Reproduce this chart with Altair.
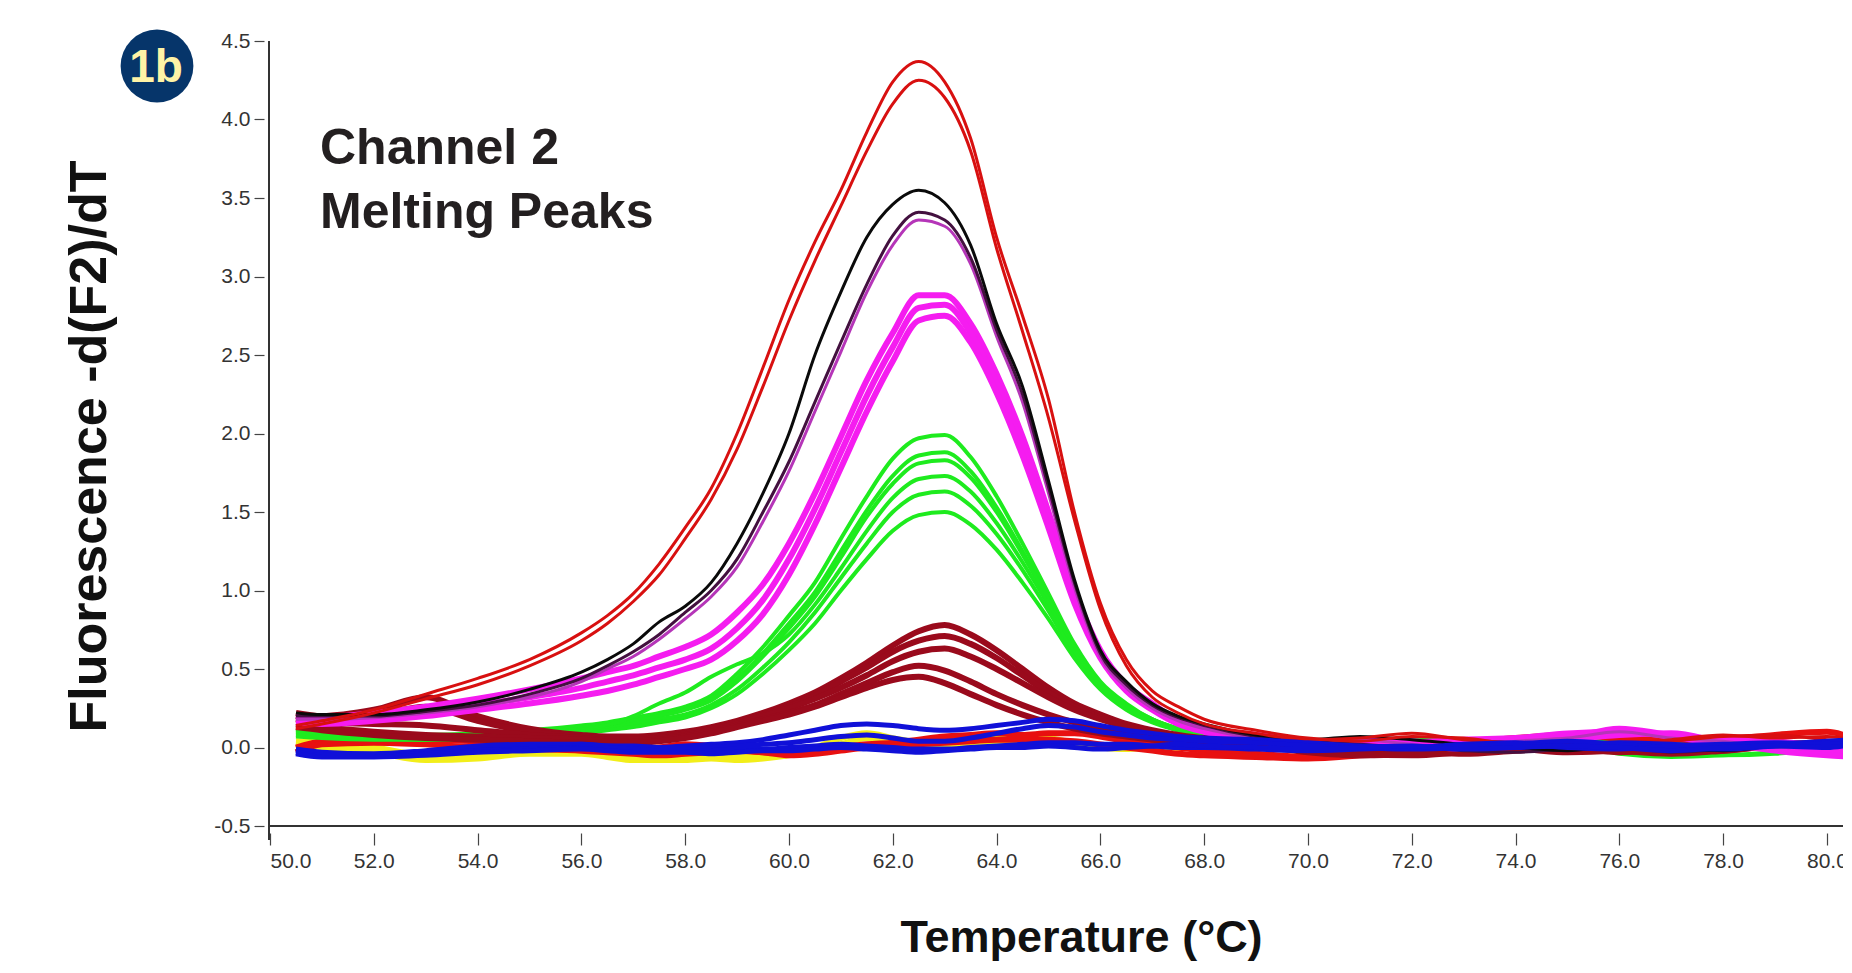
import altair as alt
import pandas as pd

# temperature grid (deg C)
TEMPS = [50.5, 51, 52, 53, 54, 55,
         56, 56.5, 57, 57.5, 58, 58.5, 59, 59.5, 60,
         60.5, 61, 61.5, 62, 62.5, 63, 63.5, 64,
         64.5, 65, 65.5, 66, 66.5, 67, 67.5, 68,
         69, 70, 71, 72, 73, 74, 75, 76, 77, 78, 79, 80, 80.5]

RED_A = [0.14, 0.17, 0.24, 0.34, 0.44, 0.56,
         0.73, 0.84, 0.98, 1.17, 1.40, 1.65, 2.00, 2.42, 2.85,
         3.22, 3.55, 3.92, 4.24, 4.37, 4.24, 3.88, 3.25,
         2.75, 2.22, 1.50, 0.92, 0.56, 0.36, 0.26, 0.18,
         0.11, 0.06, 0.04, 0.07, 0.06, 0.02, 0.01, 0.03, 0.04, 0.07, 0.08, 0.05, 0.04]
RED_B = [0.12, 0.15, 0.22, 0.31, 0.40, 0.52,
         0.68, 0.79, 0.93, 1.10, 1.33, 1.58, 1.90, 2.30, 2.72,
         3.10, 3.45, 3.80, 4.10, 4.25, 4.14, 3.80, 3.18,
         2.65, 2.10, 1.45, 0.88, 0.52, 0.32, 0.22, 0.15,
         0.09, 0.05, 0.06, 0.09, 0.05, 0.03, 0.00, 0.02, 0.05, 0.08, 0.06, 0.07, 0.05]
BLACK = [0.22, 0.21, 0.21, 0.24, 0.29, 0.37,
         0.48, 0.56, 0.66, 0.80, 0.90, 1.05, 1.30, 1.62, 2.00,
         2.50, 2.90, 3.25, 3.46, 3.55, 3.47, 3.20, 2.70,
         2.30, 1.70, 1.07, 0.62, 0.42, 0.28, 0.20, 0.15,
         0.08, 0.05, 0.07, 0.05, 0.02, 0.00, -0.02, 0.01, 0.00, -0.02, 0.01, 0.03, 0.04]
DARK_PURPLE = [0.20, 0.20, 0.20, 0.23, 0.27, 0.34,
               0.44, 0.52, 0.61, 0.72, 0.86, 1.00, 1.20, 1.50, 1.82,
               2.20, 2.58, 2.95, 3.26, 3.41, 3.36, 3.12, 2.66,
               2.25, 1.66, 1.05, 0.60, 0.40, 0.27, 0.19, 0.14,
               0.07, 0.04, 0.02, 0.00, -0.02, -0.03, -0.01, 0.00, -0.03, -0.01, 0.02, 0.02, 0.03]
PURPLE = [0.18, 0.18, 0.19, 0.22, 0.26, 0.32,
          0.42, 0.50, 0.58, 0.69, 0.82, 0.96, 1.15, 1.44, 1.76,
          2.14, 2.52, 2.90, 3.20, 3.36, 3.32, 3.08, 2.62,
          2.20, 1.62, 1.02, 0.58, 0.38, 0.25, 0.17, 0.12,
          0.06, 0.03, 0.05, 0.02, 0.00, 0.04, 0.06, 0.10, 0.06, 0.04, 0.00, 0.02, 0.03]
MAGENTA_1 = [0.20, 0.19, 0.22, 0.26, 0.31, 0.37,
             0.44, 0.48, 0.52, 0.58, 0.64, 0.72, 0.86, 1.04, 1.30,
             1.62, 1.98, 2.34, 2.64, 2.88, 2.88, 2.70, 2.38,
             1.98, 1.50, 1.00, 0.62, 0.40, 0.28, 0.17, 0.12,
             0.08, 0.04, 0.02, 0.04, 0.00, 0.03, 0.06, 0.12, 0.08, 0.05, 0.04, 0.00, -0.03]
MAGENTA_2 = [0.18, 0.17, 0.19, 0.22, 0.27, 0.32,
             0.38, 0.42, 0.46, 0.51, 0.56, 0.63, 0.76, 0.94, 1.20,
             1.52, 1.88, 2.24, 2.55, 2.80, 2.82, 2.64, 2.32,
             1.92, 1.45, 0.96, 0.60, 0.38, 0.26, 0.16, 0.11,
             0.06, 0.02, 0.00, 0.03, 0.05, 0.06, 0.09, 0.10, 0.07, 0.02, 0.01, -0.02, -0.04]
MAGENTA_3 = [0.16, 0.15, 0.17, 0.20, 0.24, 0.28,
             0.33, 0.36, 0.40, 0.45, 0.50, 0.56, 0.68, 0.85, 1.10,
             1.42, 1.78, 2.14, 2.46, 2.72, 2.75, 2.58, 2.26,
             1.86, 1.40, 0.92, 0.57, 0.36, 0.24, 0.15, 0.10,
             0.05, 0.03, 0.05, 0.02, -0.01, 0.02, 0.05, 0.08, 0.09, 0.03, -0.02, -0.05, -0.06]
GREEN_1 = [0.12, 0.10, 0.08, 0.08, 0.09, 0.11,
           0.14, 0.16, 0.19, 0.22, 0.26, 0.33, 0.47, 0.64, 0.84,
           1.05, 1.33, 1.60, 1.84, 1.97, 1.99, 1.85, 1.60,
           1.30, 0.98, 0.66, 0.42, 0.28, 0.18, 0.12, 0.09,
           0.06, 0.05, 0.04, 0.06, 0.05, 0.04, 0.06, 0.02, 0.00, 0.03, 0.02, 0.03, 0.04]
GREEN_2 = [0.10, 0.09, 0.08, 0.07, 0.08, 0.10,
           0.13, 0.15, 0.18, 0.21, 0.25, 0.31, 0.44, 0.60, 0.79,
           0.99, 1.25, 1.51, 1.73, 1.86, 1.88, 1.76, 1.53,
           1.25, 0.95, 0.64, 0.41, 0.27, 0.18, 0.12, 0.08,
           0.05, 0.04, 0.03, 0.02, 0.04, 0.06, 0.04, -0.04, -0.06, -0.05, -0.03, 0.00, 0.02]
GREEN_3 = [0.11, 0.09, 0.07, 0.06, 0.07, 0.09,
           0.12, 0.14, 0.17, 0.20, 0.24, 0.30, 0.42, 0.58, 0.76,
           0.96, 1.21, 1.47, 1.68, 1.81, 1.83, 1.72, 1.50,
           1.23, 0.94, 0.64, 0.41, 0.27, 0.18, 0.12, 0.08,
           0.05, 0.04, 0.05, 0.03, 0.02, 0.04, 0.03, 0.01, 0.02, 0.00, 0.01, 0.02, 0.03]
GREEN_4 = [0.09, 0.08, 0.07, 0.06, 0.06, 0.08,
           0.11, 0.14, 0.20, 0.28, 0.35, 0.45, 0.53, 0.60, 0.72,
           0.91, 1.14, 1.38, 1.59, 1.71, 1.73, 1.63, 1.43,
           1.18, 0.91, 0.62, 0.40, 0.26, 0.17, 0.11, 0.08,
           0.05, 0.03, 0.02, 0.04, 0.03, 0.02, 0.03, 0.02, 0.01, 0.03, 0.02, 0.01, 0.02]
GREEN_5 = [0.08, 0.07, 0.06, 0.05, 0.06, 0.07,
           0.10, 0.12, 0.15, 0.18, 0.21, 0.27, 0.37, 0.51, 0.67,
           0.86, 1.08, 1.30, 1.50, 1.61, 1.63, 1.54, 1.36,
           1.13, 0.87, 0.60, 0.39, 0.25, 0.17, 0.11, 0.08,
           0.05, 0.03, 0.04, 0.02, 0.03, 0.01, 0.02, 0.03, 0.01, 0.02, 0.03, 0.02, 0.03]
GREEN_6 = [0.07, 0.06, 0.05, 0.05, 0.05, 0.06,
           0.09, 0.11, 0.13, 0.16, 0.19, 0.25, 0.34, 0.47, 0.62,
           0.79, 1.00, 1.20, 1.38, 1.48, 1.50, 1.42, 1.26,
           1.05, 0.82, 0.57, 0.37, 0.24, 0.16, 0.11, 0.07,
           0.04, 0.03, 0.02, 0.03, 0.02, 0.03, 0.01, -0.02, -0.05, -0.05, -0.04, -0.01, 0.01]
MAROON_1 = [0.22, 0.20, 0.24, 0.32, 0.20, 0.12,
            0.08, 0.07, 0.07, 0.08, 0.10, 0.13, 0.17, 0.22, 0.28,
            0.35, 0.44, 0.54, 0.65, 0.74, 0.78, 0.72, 0.62,
            0.50, 0.38, 0.28, 0.21, 0.15, 0.11, 0.08, 0.06,
            0.05, 0.01, -0.03, -0.04, -0.02, 0.00, 0.02, 0.00, -0.02, 0.00, 0.03, 0.02, 0.01]
MAROON_2 = [0.20, 0.18, 0.20, 0.26, 0.17, 0.10,
            0.07, 0.06, 0.06, 0.07, 0.09, 0.12, 0.16, 0.21, 0.26,
            0.33, 0.42, 0.51, 0.61, 0.68, 0.71, 0.66, 0.57,
            0.46, 0.35, 0.26, 0.19, 0.14, 0.10, 0.07, 0.05,
            0.03, 0.00, -0.04, -0.05, -0.03, -0.01, 0.01, -0.02, -0.04, -0.02, 0.01, 0.03, 0.02]
MAROON_3 = [0.18, 0.16, 0.15, 0.14, 0.11, 0.08,
            0.06, 0.05, 0.05, 0.06, 0.08, 0.11, 0.15, 0.20, 0.25,
            0.31, 0.38, 0.46, 0.55, 0.61, 0.63, 0.58, 0.50,
            0.41, 0.32, 0.24, 0.18, 0.13, 0.09, 0.07, 0.05,
            0.02, -0.02, -0.05, -0.03, -0.04, -0.02, 0.00, -0.03, -0.01, 0.01, 0.00, 0.02, 0.01]
MAROON_4 = [0.15, 0.13, 0.10, 0.08, 0.07, 0.06,
            0.05, 0.04, 0.04, 0.05, 0.07, 0.10, 0.14, 0.18, 0.22,
            0.27, 0.34, 0.41, 0.48, 0.52, 0.49, 0.42, 0.34,
            0.27, 0.21, 0.16, 0.12, 0.09, 0.07, 0.05, 0.04,
            0.02, -0.02, -0.04, -0.03, -0.02, 0.00, -0.02, -0.01, 0.00, -0.02, 0.01, 0.00, 0.01]
MAROON_5 = [0.13, 0.11, 0.08, 0.06, 0.05, 0.04,
            0.03, 0.03, 0.03, 0.04, 0.06, 0.09, 0.13, 0.17, 0.21,
            0.26, 0.32, 0.38, 0.43, 0.45, 0.41, 0.34, 0.27,
            0.21, 0.16, 0.12, 0.09, 0.07, 0.05, 0.04, 0.03,
            0.01, -0.03, -0.05, -0.04, -0.03, -0.01, -0.03, -0.02, -0.01, 0.00, 0.02, 0.01, 0.00]
BLUE_1 = [-0.02, -0.04, -0.05, -0.03, 0.00, 0.00,
          0.02, 0.01, 0.00, 0.00, 0.01, 0.02, 0.03, 0.05, 0.08,
          0.11, 0.14, 0.15, 0.14, 0.12, 0.11, 0.12, 0.14,
          0.16, 0.18, 0.17, 0.14, 0.11, 0.09, 0.07, 0.06,
          0.05, 0.03, 0.01, 0.00, 0.02, 0.03, 0.01, 0.03, 0.02, 0.00, 0.02, 0.04, 0.05]
BLUE_2 = [-0.01, -0.03, -0.04, -0.02, 0.01, 0.02,
          0.02, 0.01, 0.01, 0.00, 0.00, 0.00, 0.01, 0.02, 0.03,
          0.05, 0.07, 0.08, 0.06, 0.04, 0.04, 0.06, 0.09,
          0.12, 0.14, 0.13, 0.10, 0.08, 0.06, 0.05, 0.04,
          0.03, 0.01, 0.00, -0.01, 0.00, 0.02, 0.04, 0.02, 0.00, -0.01, 0.01, 0.03, 0.04]
BLUE_3 = [-0.03, -0.05, -0.05, -0.04, -0.02, -0.01,
          0.00, 0.00, -0.01, -0.02, -0.02, -0.02, -0.01, -0.01, 0.00,
          0.01, 0.02, 0.01, 0.00, -0.01, -0.01, 0.00, 0.01,
          0.02, 0.03, 0.03, 0.02, 0.02, 0.01, 0.00, 0.00,
          -0.01, -0.02, -0.01, 0.00, 0.01, 0.02, 0.00, -0.01, 0.01, 0.02, 0.03, 0.02, 0.03]
BLUE_4 = [-0.04, -0.06, -0.06, -0.05, -0.03, -0.02,
          -0.01, -0.02, -0.03, -0.03, -0.03, -0.04, -0.03, -0.02, -0.02,
          -0.01, 0.00, -0.01, -0.02, -0.03, -0.02, -0.01, 0.00,
          0.00, 0.01, 0.00, -0.01, 0.00, 0.01, 0.02, 0.01,
          0.00, -0.01, 0.00, 0.01, -0.01, 0.00, 0.01, 0.00, -0.02, 0.00, 0.01, 0.00, 0.02]
YELLOW_1 = [0.02, 0.00, -0.03, -0.08, -0.07, -0.04,
            -0.04, -0.06, -0.08, -0.08, -0.08, -0.07, -0.08, -0.07, -0.05,
            -0.02, 0.02, 0.06, 0.05, 0.01, 0.00, 0.02, 0.06,
            0.07, 0.06, 0.03, 0.01, 0.00, 0.00, 0.00, 0.01,
            0.00, 0.00, 0.01, 0.00, 0.00, 0.01, 0.02, 0.00, 0.00, 0.01, 0.00, 0.01, 0.00]
YELLOW_2 = [0.04, 0.03, 0.00, -0.05, -0.05, -0.02,
            -0.02, -0.03, -0.05, -0.06, -0.06, -0.05, -0.06, -0.05, -0.03,
            0.00, 0.06, 0.09, 0.06, 0.03, 0.01, 0.00, 0.03,
            0.05, 0.04, 0.02, 0.00, -0.01, 0.00, 0.00, 0.00,
            0.00, 0.01, 0.00, 0.00, 0.01, 0.00, 0.00, 0.01, 0.00, 0.00, 0.01, 0.00, 0.00]
RED_BASE_1 = [0.00, 0.04, 0.06, 0.05, 0.04, 0.03,
              0.02, 0.00, -0.01, 0.00, 0.02, 0.01, -0.01, -0.03, -0.04,
              -0.02, 0.00, 0.02, 0.03, 0.05, 0.07, 0.08, 0.09,
              0.08, 0.09, 0.09, 0.07, 0.04, 0.02, 0.00, -0.02,
              -0.04, -0.06, -0.03, 0.00, 0.03, 0.06, 0.08, 0.05, 0.03, 0.05, 0.08, 0.10, 0.06]
RED_BASE_2 = [-0.03, 0.02, 0.03, 0.02, 0.00, -0.01,
              -0.02, -0.03, -0.04, -0.05, -0.04, -0.03, -0.02, -0.03, -0.05,
              -0.04, -0.02, 0.00, 0.01, 0.02, 0.03, 0.04, 0.05,
              0.05, 0.05, 0.04, 0.02, 0.00, -0.02, -0.04, -0.05,
              -0.06, -0.07, -0.05, -0.02, 0.00, 0.02, 0.04, 0.06, 0.05, 0.02, 0.00, -0.02, -0.08]

SERIES = [
    ("yellow 1", "yellow", YELLOW_1), ("yellow 2", "yellow", YELLOW_2),
    ("red base 1", "redbase", RED_BASE_1), ("red base 2", "redbase", RED_BASE_2),
    ("green 1", "green", GREEN_1), ("green 2", "green", GREEN_2),
    ("green 3", "green", GREEN_3), ("green 4", "green", GREEN_4),
    ("green 5", "green", GREEN_5), ("green 6", "green", GREEN_6),
    ("maroon 1", "maroon", MAROON_1), ("maroon 2", "maroon", MAROON_2),
    ("maroon 3", "maroon", MAROON_3), ("maroon 4", "maroon", MAROON_4),
    ("maroon 5", "maroon", MAROON_5),
    ("magenta 1", "magenta", MAGENTA_1), ("magenta 2", "magenta", MAGENTA_2),
    ("magenta 3", "magenta", MAGENTA_3),
    ("purple", "purple", PURPLE), ("dark purple", "darkpurple", DARK_PURPLE),
    ("black", "black", BLACK),
    ("red A", "red", RED_A), ("red B", "red", RED_B),
    ("blue 1", "blue", BLUE_1), ("blue 2", "blue", BLUE_2),
    ("blue 3", "blue", BLUE_3), ("blue 4", "blue", BLUE_4),
]

GROUP_ORDER = ["yellow", "redbase", "green", "maroon", "magenta", "purple",
               "darkpurple", "black", "red", "blue"]
GROUP_STYLE = {
    "yellow": ("#F2EE1A", 6),
    "redbase": ("#E81010", 6),
    "green": ("#1EEB1E", 4),
    "maroon": ("#9A0A1C", 6),
    "magenta": ("#F51CF0", 6),
    "purple": ("#B535B8", 3),
    "darkpurple": ("#43103F", 3),
    "black": ("#0A0A0A", 3),
    "red": ("#D81010", 3),
    "blue": ("#1010D8", 5),
}

X_TICKS = [50, 52, 54, 56, 58, 60, 62, 64, 66, 68, 70, 72, 74, 76, 78, 80]
Y_TICKS = [-0.5, 0.0, 0.5, 1.0, 1.5, 2.0, 2.5, 3.0, 3.5, 4.0, 4.5]

rows = []
for name, grp, vals in SERIES:
    for t, v in zip(TEMPS, vals):
        rows.append({"series": name, "group": grp, "T": t, "v": v})
df = pd.DataFrame(rows)

W, H = 1573, 785
xscale = alt.Scale(domain=[50, 80.31], nice=False, zero=False)
yscale = alt.Scale(domain=[-0.5, 4.5], nice=False, zero=False)

LABEL_FONT = "Liberation Sans"
HYPHEN_LABEL = "replace(format(datum.value, '.1f'), '\u2212', '-')"
xaxis = alt.Axis(values=X_TICKS, labelExpr=HYPHEN_LABEL, domain=False, grid=False,
                 ticks=True, tickSize=12, tickColor="#444", tickWidth=1.2,
                 offset=7, labelFont=LABEL_FONT, labelFontSize=21,
                 labelColor="#333", labelPadding=5,
                 title="Temperature (°C)", titleFont="Liberation Sans",
                 titleFontSize=45, titleFontWeight="bold", titleColor="#111",
                 titleX=811, titleY=104, titleAlign="center", titleBaseline="middle")
yaxis = alt.Axis(values=Y_TICKS, labelExpr=HYPHEN_LABEL, domain=False, grid=False,
                 ticks=True, tickSize=10, tickColor="#444", tickWidth=1.2,
                 offset=6, labelFont=LABEL_FONT, labelFontSize=21,
                 labelColor="#333", labelPadding=4,
                 title="Fluorescence -d(F2)/dT", titleFont="Liberation Sans",
                 titleFontSize=52, titleFontWeight="bold", titleColor="#111",
                 titleAngle=270, titleX=-175, titleY=405, titleAlign="center",
                 titleBaseline="middle")

base = alt.Chart(df)
layers = []
for grp in GROUP_ORDER:
    color, sw = GROUP_STYLE[grp]
    layers.append(
        base.transform_filter(alt.datum.group == grp)
        .mark_line(color=color, strokeWidth=sw, interpolate="monotone", clip=True)
        .encode(x=alt.X("T:Q", scale=xscale, axis=xaxis),
                y=alt.Y("v:Q", scale=yscale, axis=yaxis),
                detail="series:N")
    )

one = pd.DataFrame({"k": [0]})
x_line = alt.Chart(one).mark_rule(color="#333", strokeWidth=2).encode(
    x=alt.value(-1), x2=alt.value(W), y=alt.value(H))
y_line = alt.Chart(one).mark_rule(color="#333", strokeWidth=2).encode(
    x=alt.value(-1), y=alt.value(0), y2=alt.value(H + 14))

badge = alt.Chart(one).mark_point(shape="circle", filled=True, opacity=1,
                                  color="#06356A", size=5300, clip=False).encode(
    x=alt.value(-113), y=alt.value(25))
badge_text = alt.Chart(one).mark_text(text="1b", font="Liberation Sans", fontSize=46,
                                      fontWeight="bold", color="#FFF3A6",
                                      align="center", baseline="middle").encode(
    x=alt.value(-114), y=alt.value(27))
title_text = alt.Chart(one).mark_text(font="Liberation Sans", fontSize=50,
                                      fontWeight="bold", color="#231F20",
                                      align="left", baseline="alphabetic",
                                      lineHeight=64).encode(
    x=alt.value(50), y=alt.value(123),
    text=alt.value(["Channel 2", "Melting Peaks"]))

chart = alt.layer(*layers, x_line, y_line, badge, badge_text, title_text).properties(
    width=W, height=H,
    padding={"left": 262, "top": 33, "right": 0, "bottom": 138},
    autosize=alt.AutoSizeParams(type="none"),
    background="white",
).configure_view(stroke=None)

chart.save("out.html", embed_options={"renderer": "svg", "actions": False})
